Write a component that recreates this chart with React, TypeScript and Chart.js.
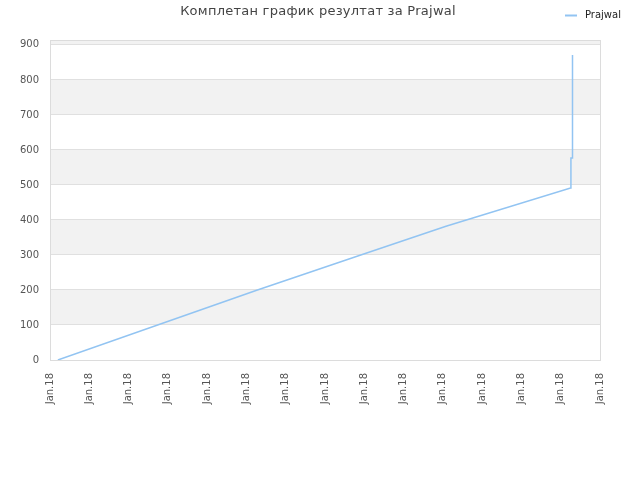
import { useEffect, useRef } from "react"
import { Chart, registerables } from "chart.js"

Chart.register(...registerables)

// Score history for Prajwal, x in days along the axis (0..14), y = score
const dayPoints = [0.2, 3.32, 5.28, 7.91, 10.08, 13.25, 13.26, 13.29, 13.3]
const scorePoints = [0, 123, 200, 300, 382, 491, 577, 577, 871]
const yTicks = [0, 100, 200, 300, 400, 500, 600, 700, 800, 900]
const tickLabel = "Jan.18"
const seriesName = "Prajwal"
const chartTitle = "Комплетан график резултат за Prajwal"

const FONT = "'DejaVu Sans', sans-serif"
const LINE_COLOR = "#92c4f2"

// Alternating bands, grid box, title and legend drawn in one place
const decorPlugin = {
  id: "decor",
  beforeDraw(chart: Chart) {
    const { ctx, chartArea: a } = chart
    const y = chart.scales.y
    ctx.save()
    ctx.fillStyle = "#f2f2f2"
    for (let v = 100; v < 1000; v += 200) {
      const top = y.getPixelForValue(Math.min(v + 100, y.max))
      const bottom = y.getPixelForValue(v)
      ctx.fillRect(a.left, top, a.right - a.left, bottom - top)
    }
    ctx.restore()
  },
  afterDraw(chart: Chart) {
    const { ctx, chartArea: a } = chart
    ctx.save()
    ctx.strokeStyle = "#dcdcdc"
    ctx.lineWidth = 1
    ctx.strokeRect(a.left + 0.5, a.top + 0.5, a.right - a.left, a.bottom - a.top)

    ctx.fillStyle = "#444"
    ctx.font = `13px ${FONT}`
    ;(ctx as any).letterSpacing = "0.25px"
    ctx.textAlign = "center"
    ctx.textBaseline = "middle"
    ctx.fillText(chartTitle, 318, 12)
    ;(ctx as any).letterSpacing = "0px"

    ctx.strokeStyle = LINE_COLOR
    ctx.lineWidth = 2
    ctx.beginPath()
    ctx.moveTo(565, 15.5)
    ctx.lineTo(577, 15.5)
    ctx.stroke()
    ctx.fillStyle = "#222"
    ctx.font = `10px ${FONT}`
    ctx.textAlign = "left"
    ctx.fillText(seriesName, 585, 15)
    ctx.restore()
  },
}

export default function App() {
  const canvasRef = useRef<HTMLCanvasElement>(null)
  const chartRef = useRef<Chart | null>(null)

  useEffect(() => {
    document.body.style.margin = "0"
    if (!canvasRef.current) return
    if (chartRef.current) chartRef.current.destroy()

    chartRef.current = new Chart(canvasRef.current, {
      type: "line",
      data: {
        datasets: [
          {
            label: seriesName,
            data: dayPoints.map((d, i) => ({ x: d, y: scorePoints[i] })),
            borderColor: LINE_COLOR,
            borderWidth: 1.5,
            pointRadius: 0,
            fill: false,
            tension: 0,
          },
        ],
      },
      options: {
        animation: false,
        responsive: false,
        devicePixelRatio: 1,
        layout: { padding: { left: 0, right: 40, top: 40, bottom: 0 } },
        plugins: {
          legend: { display: false },
          title: { display: false },
          tooltip: { enabled: false },
        },
        scales: {
          x: {
            type: "linear",
            min: 0,
            max: 14,
            border: { display: false },
            grid: { display: false },
            afterFit: (s: any) => {
              s.height = 120
            },
            ticks: {
              stepSize: 1,
              autoSkip: false,
              maxRotation: 90,
              minRotation: 90,
              padding: 5,
              color: "#555",
              font: { family: FONT, size: 10 },
              callback: () => tickLabel,
            },
          },
          y: {
            min: 0,
            max: 914,
            border: { display: false },
            grid: { color: "#e0e0e0", drawTicks: false },
            afterFit: (s: any) => {
              s.width = 50
            },
            afterBuildTicks: (s: any) => {
              s.ticks = yTicks.map((v) => ({ value: v }))
            },
            ticks: {
              padding: 11,
              color: "#555",
              font: { family: FONT, size: 10 },
            },
          },
        },
      },
      plugins: [decorPlugin],
    })

    return () => {
      if (chartRef.current) {
        chartRef.current.destroy()
        chartRef.current = null
      }
    }
  }, [])

  return <canvas ref={canvasRef} width={640} height={480} />
}
